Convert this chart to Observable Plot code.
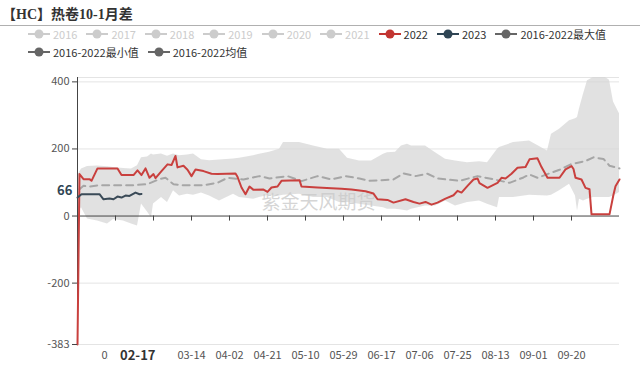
<!DOCTYPE html>
<html><head><meta charset="utf-8">
<script src="https://cdn.jsdelivr.net/npm/d3@7"></script>
<script src="https://cdn.jsdelivr.net/npm/@observablehq/plot@0.6"></script>
<style>
body{margin:0;background:#fff;}
#wrap{position:relative;width:640px;height:366px;font-family:"Noto Sans CJK SC","Noto Sans",sans-serif;overflow:hidden;background:#fff;}
#title{position:absolute;left:2px;top:3px;font-weight:bold;font-size:14px;font-family:"Liberation Serif","Noto Sans CJK SC",serif;color:#333;}
#rule{position:absolute;left:0;top:25px;width:640px;height:1px;background:#b0b0b0;}
.row{position:absolute;left:28px;display:flex;align-items:center;height:14px;}
.item{display:flex;align-items:center;margin-right:9px;font-size:11px;white-space:nowrap;}
.item svg{margin-right:3px;}
#chart{position:absolute;left:0;top:62px;}
.ptr{position:absolute;background:#fff;font-weight:bold;color:#333;white-space:nowrap;}
</style></head>
<body><div id="wrap">
<div id="title">【HC】热卷10-1月差</div>
<div id="rule"></div>
<div class="row" id="row1" style="top:27px"></div>
<div class="row" id="row2" style="top:45px"></div>
<div id="chart"></div>
</div>
<script>
// ---------- data ----------
const legendNames = ["2016","2017","2018","2019","2020","2021","2022","2023","2016-2022最大值","2016-2022最小值","2016-2022均值"];
const legendColors = ["#cccccc","#cccccc","#cccccc","#cccccc","#cccccc","#cccccc","#c23531","#2f4554","#666666","#666666","#666666"];
const legendActive = [false,false,false,false,false,false,true,true,true,true,true];
const legendRowBreak = 9;

const s2022Dates = ["01-16","01-17","01-19","01-22","01-23","01-26","02-05","02-07","02-13","02-15","02-17","02-19","02-21","02-23","02-24","02-27","03-02","03-04","03-06","03-07","03-10","03-12","03-14","03-16","03-20","03-24","03-27","04-05","04-06","04-08","04-10","04-12","04-14","04-19","04-21","04-23","04-26","04-28","05-07","05-08","05-16","05-23","05-28","06-02","06-09","06-13","06-15","06-20","06-23","06-29","07-03","07-06","07-09","07-12","07-15","07-19","07-23","07-25","07-27","07-30","08-02","08-04","08-05","08-09","08-14","08-16","08-18","08-21","08-24","08-28","08-30","09-03","09-05","09-08","09-14","09-17","09-20","09-21","09-22","09-25","09-27","09-29","09-30","10-09","10-11","10-12","10-14"];
const s2022Values = [-383,125,110,110,105,142,142,122,122,136,122,142,114,125,113,134,154,152,179,145,150,138,119,139,134,126,125,127,117,85,65,88,78,79,72,85,88,105,107,88,85,83,81,79,74,67,50,48,40,50,42,37,42,34,40,52,62,75,70,90,109,112,98,84,99,114,112,126,144,146,169,172,146,114,114,139,149,140,114,109,84,80,5,5,64,89,109];

const s2023Dates = ["01-16","01-18","01-27","01-29","02-01","02-03","02-05","02-07","02-09","02-11","02-14","02-16","02-17"];
const s2023Values = [55,65,65,50,52,50,58,55,61,60,70,65,66];

const meanDates = ["01-17","01-19","01-22","01-27","02-05","02-13","02-20","02-26","03-01","03-05","03-09","03-20","03-27","04-01","04-09","04-17","04-22","05-01","05-08","05-16","05-23","05-30","06-06","06-11","06-23","06-28","07-04","07-10","07-15","07-26","08-04","08-10","08-20","08-27","08-30","09-03","09-08","09-14","09-20","09-27","10-01","10-06","10-09","10-14"];
const meanValues = [80,90,88,92,92,92,95,110,114,95,92,92,99,114,109,119,112,119,104,119,109,119,112,105,109,127,119,126,112,105,119,112,99,115,124,114,125,138,155,164,175,170,150,142];

const bandDates = ["01-16","01-18","01-21","01-26","01-31","02-03","02-08","02-12","02-15","02-17","02-20","02-22","02-23","02-27","03-02","03-05","03-08","03-12","03-15","03-19","03-23","03-28","04-04","04-07","04-14","04-17","04-22","04-27","04-29","05-07","05-14","05-21","05-27","05-31","06-06","06-12","06-18","06-20","06-24","06-27","06-30","07-02","07-09","07-14","07-19","07-24","07-30","08-05","08-09","08-14","08-15","08-22","08-30","09-08","09-10","09-14","09-19","09-22","09-23","09-24","09-26","09-28","10-01","10-07","10-09","10-11","10-14"];
const bandMax = [120,140,148,149,147,145,142,140,150,174,176,185,182,185,178,185,180,182,185,168,165,167,170,172,180,184,190,199,219,219,209,199,199,172,164,164,184,189,190,209,214,209,209,189,169,164,159,162,159,199,204,219,224,194,244,259,284,290,294,320,363,403,413,413,405,340,305];
const bandMin = [10,25,-9,-15,-24,-10,-15,-24,-30,36,12,-5,36,55,40,75,60,65,62,69,60,45,65,55,50,55,62,60,62,65,55,55,40,40,35,30,25,20,20,18,15,20,30,30,45,30,40,45,35,25,55,55,62,60,62,75,95,60,15,50,45,50,55,55,55,60,70];

const xDomain = ["01-16","10-14"];
const yDomain = [-383, 413];
const yTicks = [400, 200, 0, -200, -383];
const xTickDates = ["02-04","02-23","03-14","04-02","04-21","05-10","05-29","06-17","07-06","07-25","08-13","09-01","09-20"];
const xLabelDates = ["02-04","03-14","04-02","04-21","05-10","05-29","06-17","07-06","07-25","08-13","09-01","09-20"];
const pointerDate = "02-17";
const watermark = "紫金天风期货";

// ---------- legend ----------
legendNames.forEach((n, i) => {
  const row = document.getElementById(i < legendRowBreak ? "row1" : "row2");
  const it = document.createElement("div");
  it.className = "item";
  const c = legendColors[i];
  it.innerHTML = `<svg width="22" height="14"><line x1="0" y1="7" x2="22" y2="7" stroke="${c}" stroke-width="2"/><circle cx="11" cy="7" r="4.5" fill="${c}"/></svg><span style="color:${legendActive[i] ? "#333" : "#ccc"}">${n}</span>`;
  row.appendChild(it);
});

// ---------- chart ----------
const P = d3.utcParse("%m-%d");
const fmt = d3.utcFormat("%m-%d");
const s2022 = s2022Dates.map((d, i) => ({date: P(d), v: s2022Values[i]}));
const s2023 = s2023Dates.map((d, i) => ({date: P(d), v: s2023Values[i]}));
const mean = meanDates.map((d, i) => ({date: P(d), v: meanValues[i]}));
const band = bandDates.map((d, i) => ({date: P(d), hi: bandMax[i], lo: bandMin[i]}));
const gridVals = [yDomain[1], ...yTicks.filter(t => t !== 0)];

const chart = Plot.plot({
  width: 640, height: 304,
  marginLeft: 77, marginRight: 21, marginTop: 15, marginBottom: 22,
  style: {fontFamily: "'Noto Sans CJK SC','Noto Sans',sans-serif", fontSize: "11px", color: "#555", background: "white"},
  x: {type: "utc", domain: xDomain.map(P)},
  y: {domain: yDomain},
  marks: [
    Plot.ruleY(gridVals, {stroke: "#e4e4e4", strokeWidth: 1}),
    Plot.areaY(band, {x: "date", y1: "lo", y2: "hi", fill: "#d6d6d6", fillOpacity: 0.72}),
    Plot.ruleY([0], {stroke: "#444", strokeWidth: 1}),
    Plot.ruleX(xTickDates.map(P), {y1: 0, y2: -15, stroke: "#444"}),
    Plot.ruleX([P(xDomain[0])], {stroke: "#444", strokeWidth: 1}),
    Plot.text([watermark], {frameAnchor: "middle", dx: -30, dy: -8, text: d => d, fontSize: 19, fill: "#c8c8c8", fillOpacity: 0.75}),
    Plot.lineY(mean, {x: "date", y: "v", stroke: "#a6a6a6", strokeWidth: 2, strokeDasharray: "7,5"}),
    Plot.lineY(s2022, {x: "date", y: "v", stroke: "#c9403e", strokeWidth: 2}),
    Plot.lineY(s2023, {x: "date", y: "v", stroke: "#3a4a57", strokeWidth: 2}),
    Plot.axisY(yTicks, {tickSize: 5, tickPadding: 3, stroke: "#444", fill: "#555", label: null, tickFormat: d => String(d)}),
    Plot.axisX(xLabelDates.map(P), {tickSize: 0, tickPadding: 7, tickFormat: fmt, fill: "#555", label: null})
  ]
});
document.getElementById("chart").appendChild(chart);

// axis-pointer labels drawn from the scales
const xs = chart.scale("x"), ys = chart.scale("y");
const lastVal = s2023Values[s2023Values.length - 1];
const wrap = document.getElementById("wrap");
const xl = document.createElement("div");
xl.className = "ptr";
xl.style.cssText += "font-size:13px;line-height:16px;padding:0 12px;";
xl.textContent = pointerDate;
wrap.appendChild(xl);
xl.style.left = (xs.apply(P(pointerDate)) - xl.offsetWidth / 2 - 3) + "px";
xl.style.top = (62 + 304 - 22 + 3) + "px";
const yl = document.createElement("div");
yl.className = "ptr";
yl.style.cssText += "font-size:13px;line-height:16px;color:#2f4554;";
yl.textContent = String(lastVal);
wrap.appendChild(yl);
yl.style.left = (72 - yl.offsetWidth) + "px";
yl.style.top = (62 + ys.apply(lastVal) - 11) + "px";
</script>
</body></html>
